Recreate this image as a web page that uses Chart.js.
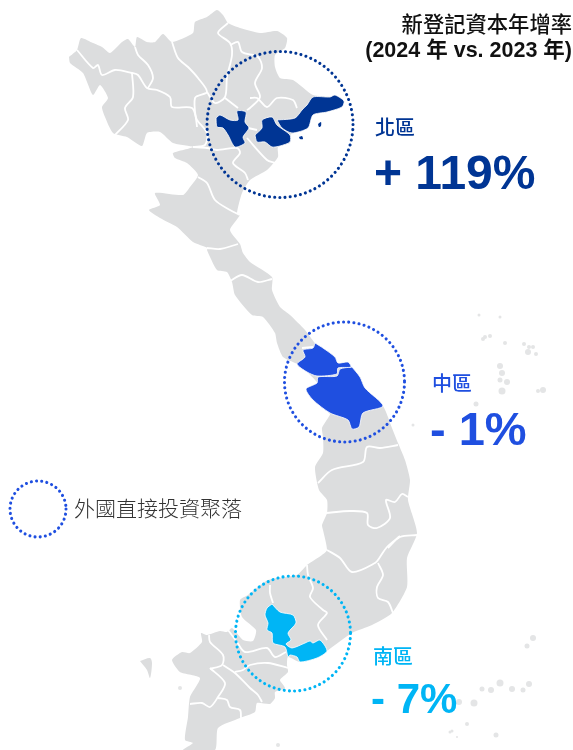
<!DOCTYPE html>
<html>
<head>
<meta charset="utf-8">
<title>新登記資本年增率</title>
<script src="https://cdn.jsdelivr.net/npm/chart.js@4"></script>
<style>
  html, body { margin: 0; padding: 0; background: #fff; }
  #wrap { position: relative; width: 573px; height: 750px; overflow: hidden; }
  #mapChart { position: absolute; left: 0; top: 0; }
  .txt { position: absolute; white-space: nowrap; line-height: 1; font-family: "Liberation Sans", "Noto Sans CJK TC", sans-serif; }
  .title { right: 1px; font-size: 21.5px; font-weight: bold; color: #111; }
  .title1 { font-family: "Noto Sans CJK TC", sans-serif; font-weight: 500; font-size: 21.3px; }
  .region { font-size: 20px; font-family: "Noto Sans CJK TC", sans-serif; font-weight: 500; }
  .pct { font-weight: bold; }
  .legend { font-size: 21px; color: #333; font-family: "Noto Sans CJK TC", sans-serif; font-weight: 300; }
</style>
</head>
<body>
<div id="wrap">
  <canvas id="mapChart" width="573" height="750"></canvas>
</div>
<script>
// region results
var regionNames = ['北區', '中區', '南區'];
var growthValues = [119, -1, -7];
var regionColors = ['#003594', '#1f4fe0', '#00b5f5'];
var titleLines = ['新登記資本年增率', '(2024 年 vs. 2023 年)'];
var legendLabel = '外國直接投資聚落';

// country outline
var landOutline = [
    [69,57],[77,50],[81,38],[93,43],[102,47],[110,53],[122,42],[128,39],[135,47],[137,37],[147,42],[155,42],
    [163,34],[172,42],[193,33],[195,22],[207,17],[217,10],[223,15],[228,23],[240,28],[260,33],[277,31],[287,38],
    [285,48],[275,55],[275,67],[280,78],[293,80],[313,95],[332,97],[343,102],[341,107],[327,112],[313,115],[307,128],
    [290,135],[290,143],[278,147],[278,157],[267,170],[250,180],[242,193],[237,213],[240,215],[230,230],[240,244],
    [243,253],[250,262],[272,277],[272,290],[280,307],[290,315],[305,330],[315,343],[323,348],[335,357],[338,363],
    [348,362],[352,367],[360,377],[365,388],[383,406],[388,417],[390,423],[398,443],[405,460],[410,480],[408,500],
    [417,533],[407,558],[407,587],[392,613],[372,625],[352,633],[327,651],[317,658],[300,662],[288,657],[287,665],
    [288,672],[280,680],[285,688],[275,692],[275,698],[270,704],[257,703],[255,712],[240,718],[218,728],[215,750],
    [183,750],[193,743],[185,740],[188,717],[190,697],[200,678],[180,672],[172,660],[182,652],[190,653],[202,642],
    [201,633],[207,635],[220,631],[227,632],[232,628],[243,640],[253,641],[256,630],[242,617],[240,600],[248,595],
    [268,580],[297,575],[307,565],[322,555],[327,550],[323,530],[322,525],[327,513],[327,500],[319,490],[315,467],
    [323,453],[323,437],[322,428],[328,418],[330,414],[313,400],[306,389],[317,383],[307,372],[297,364],[283,357],
    [277,343],[275,333],[263,317],[252,315],[235,295],[232,282],[227,272],[217,270],[207,250],[208,248],[193,242],
    [177,227],[160,218],[149,210],[160,205],[155,193],[183,195],[190,187],[198,175],[187,163],[175,158],[173,153],
    [193,147],[173,143],[160,132],[147,133],[142,146],[127,137],[113,133],[105,117],[102,107],[108,98],[100,85],
    [93,95],[83,73],[70,63]
];
var isletsSouth = [[140,661],[150,658],[152,663],[150,678],[147,670]];

// province borders, white
var borders = [
    [[77,50],[93,68],[98,65],[102,75],[115,70],[132,73],[138,75],[147,88],[157,90],[170,97],[172,107],[192,108],[197,120],[207,133],[205,145],[193,147]],
    [[132,73],[133,97],[125,108],[128,120],[115,135]],
    [[135,47],[138,55],[148,65],[153,78],[148,88]],
    [[172,42],[178,58],[188,67],[198,78],[207,92],[195,98],[197,127]],
    [[228,23],[218,33],[230,43],[232,55],[227,77],[225,97],[215,103],[207,92]],
    [[230,45],[238,42],[242,52],[258,57],[262,68],[255,83],[260,97],[250,108],[247,110]],
    [[250,98],[257,98],[267,107],[277,98],[293,100],[297,108]],
    [[225,98],[238,108]],
    [[193,147],[207,148],[217,150],[237,148],[240,153],[233,163],[245,173],[248,180]],
    [[248,128],[257,130]],
    [[247,138],[267,160],[275,163]],
    [[198,177],[207,183],[215,200],[230,210],[240,215]],
    [[207,248],[220,249],[238,244]],
    [[230,281],[242,275],[258,282],[272,279]],
    [[302,348],[313,347]],
    [[398,445],[380,448],[367,447],[363,462],[332,470],[318,483]],
    [[326,513],[350,511],[367,513],[368,525],[377,528],[390,518],[386,500],[395,502],[402,494],[408,497]],
    [[388,548],[400,537],[417,535]],
    [[327,550],[340,558],[352,572],[375,563],[380,557],[387,547],[400,536]],
    [[378,563],[383,575],[377,587],[378,598],[388,602],[393,613]],
    [[307,565],[308,575],[313,588],[310,597],[323,610],[327,613],[318,625],[327,640]],
    [[270,585],[270,593],[273,603]],
    [[209,635],[210,642],[223,655],[222,665],[210,669]],
    [[210,668],[225,683],[218,697],[210,707],[202,703],[190,704]],
    [[218,698],[227,700],[230,707],[240,710],[241,718]],
    [[223,665],[235,673],[250,688],[258,695],[262,702]],
    [[235,672],[243,670],[250,665],[268,663],[288,668]],
    [[228,630],[237,642],[245,652],[267,648],[275,657],[286,652]]
];

// highlighted provinces
var northAreas = [
    [[216,118],[220,115],[230,120],[238,120],[237,111],[246,112],[245,122],[249,128],[243,137],[245,143],[235,147],[228,135],[223,128],[217,127]],
    [[255,135],[262,128],[262,120],[272,117],[277,125],[290,135],[290,142],[280,146],[272,147],[265,142],[257,142]],
    [[277,120],[295,118],[302,110],[307,105],[313,97],[330,97],[335,95],[344,101],[342,107],[327,112],[313,115],[308,128],[292,133],[282,128]],
    [[318,124],[321,122],[321,126],[319,127]],
    [[299,137],[302,136],[303,139],[300,139]]
];
var centerAreas = [
    [[315,343],[323,348],[335,357],[338,363],[348,362],[351,367],[338,368],[337,374],[317,376],[307,372],[297,364],[305,357],[303,350],[313,348]],
    [[352,367],[360,377],[365,388],[383,406],[363,413],[359,427],[352,429],[348,420],[330,413],[313,400],[306,389],[317,383],[318,377],[337,376],[340,369]]
];
var southAreas = [
    [[272,604],[280,612],[293,615],[296,623],[288,633],[291,640],[286,644],[292,648],[305,643],[310,641],[313,643],[320,640],[327,651],[317,658],[300,662],[297,657],[290,655],[288,657],[285,647],[273,643],[272,633],[267,630],[268,623],[265,615],[267,608]]
];

// small islands
var islets = [
    [479,315],[500,317],[490,336],[485,337],[483,339],[505,343],[524,344],[529,347],[533,347],[528,352],[536,354],
    [500,366],[502,373],[500,380],[507,382],[502,391],[543,390],[538,391],[476,404],[413,425],
    [533,638],[527,646],[482,689],[491,690],[500,683],[512,689],[523,690],[529,684],[474,703],[459,702],
    [452,731],[467,724],[450,732],[496,735],[457,737],[180,688],[278,745]
];
var isletSizes = [
    1.5,1.5,2,2,2,2,2,2,2,3,2,
    3,3,2.5,3,3.5,3,2,2.5,1.5,
    3,2.5,2.5,3,3.5,3,2.5,3,3.5,3,
    1.5,2,1.5,2.5,1,2,2
];

// investment clusters: x, y, radius, colour index
var clusterCenters = [[280,124.5],[344.5,382],[293,633.5],[38,509]];
var clusterRadius = [73,60,57.5,28];
var clusterColor = [0,1,2,1];

function toPoints(list) {
    return list.map(function(p) { return {x: p[0], y: p[1]}; });
}
function shape(list, fillColor, lineColor, lineWidth, tension) {
    return {
        data: toPoints(list.concat([list[0]])),
        showLine: true,
        fill: 'shape',
        backgroundColor: fillColor,
        borderColor: lineColor,
        borderWidth: lineWidth,
        tension: tension,
        pointRadius: 0
    };
}

var datasets = [];
// first dataset ends up on top
[northAreas, centerAreas, southAreas].forEach(function(group, i) {
    group.forEach(function(area) {
        datasets.push(shape(area, regionColors[i], '#ffffff', area.length < 6 ? 0 : 0.8, 0.25));
    });
});
borders.forEach(function(line) {
    datasets.push({
        data: toPoints(line),
        showLine: true,
        fill: false,
        borderColor: '#ffffff',
        borderWidth: 1.8,
        tension: 0.3,
        pointRadius: 0
    });
});
datasets.push(shape(isletsSouth, '#dcddde', '#dcddde', 0, 0.3));
datasets.push(shape(landOutline, '#dcddde', '#dcddde', 0, 0.2));
datasets.push({
    data: toPoints(islets),
    showLine: false,
    backgroundColor: '#e4e5e6',
    pointBorderWidth: 0,
    pointRadius: isletSizes
});

var dottedCircles = {
    id: 'dottedCircles',
    afterDatasetsDraw: function(chart) {
        var c = chart.ctx;
        var xs = chart.scales.x, ys = chart.scales.y;
        clusterCenters.forEach(function(p, i) {
            c.save();
            c.beginPath();
            c.arc(xs.getPixelForValue(p[0]), ys.getPixelForValue(p[1]), clusterRadius[i], 0, Math.PI * 2);
            c.strokeStyle = regionColors[clusterColor[i]];
            c.lineWidth = 3.1;
            c.lineCap = 'round';
            c.setLineDash([0.01, 5.2]);
            c.stroke();
            c.restore();
        });
    }
};

new Chart(document.getElementById('mapChart').getContext('2d'), {
    type: 'scatter',
    data: { datasets: datasets },
    options: {
        responsive: false,
        animation: false,
        layout: { padding: 0, autoPadding: false },
        plugins: { legend: { display: false }, tooltip: { enabled: false } },
        scales: {
            x: { type: 'linear', min: 0, max: 573, display: false },
            y: { type: 'linear', min: 0, max: 750, reverse: true, display: false }
        }
    },
    plugins: [dottedCircles]
});

// text
var wrap = document.getElementById('wrap');
function addText(str, cls, left, top, size, color) {
    var d = document.createElement('div');
    d.className = 'txt ' + cls;
    d.textContent = str;
    if (left !== null) d.style.left = left + 'px';
    d.style.top = top + 'px';
    if (size) d.style.fontSize = size + 'px';
    if (color) d.style.color = color;
    wrap.appendChild(d);
}
function growthLabel(v) {
    return (v > 0 ? '+ ' : '- ') + Math.abs(v) + '%';
}
addText(titleLines[0], 'title title1', null, 12);
addText(titleLines[1], 'title', null, 40);
addText(regionNames[0], 'region', 375, 117, 20, regionColors[0]);
addText(regionNames[1], 'region', 432, 373, 20, regionColors[1]);
addText(regionNames[2], 'region', 373, 646, 20, regionColors[2]);
addText(growthLabel(growthValues[0]), 'pct', 374, 149, 48, regionColors[0]);
addText(growthLabel(growthValues[1]), 'pct', 430, 405, 47, regionColors[1]);
addText(growthLabel(growthValues[2]), 'pct', 371, 678, 42, regionColors[2]);
addText(legendLabel, 'legend', 74, 497);
</script>
</body>
</html>
